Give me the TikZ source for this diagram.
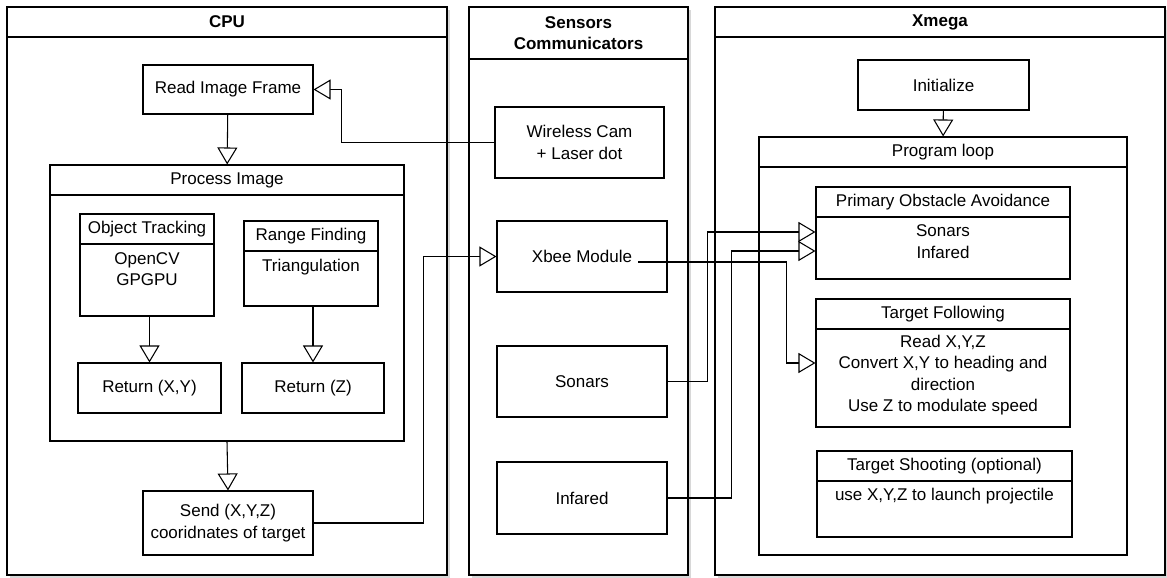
\documentclass[tikz,border=0pt]{standalone}
\usepackage{fontspec}
\setmainfont{Liberation Sans}
\usetikzlibrary{arrows.meta, shadows}

\newcommand{\lblfont}{\fontsize{12.75}{16}\selectfont}

\begin{document}
\begin{tikzpicture}[x=0.75pt, y=-0.75pt, font=\lblfont,
    size/.style 2 args={minimum width=#1*0.75pt, minimum height=#2*0.75pt},
    lane/.style={draw, line width=1.5pt, fill=white, inner sep=0pt, align=center,
      drop shadow={shadow xshift=2.5pt, shadow yshift=-2.5pt, fill=black!30}},
    title/.style={lane, font=\lblfont\bfseries},
    box/.style={draw, line width=0.8pt, fill=white, inner sep=0pt, align=center},
    txt/.style={inner sep=0pt, align=center},
    flow/.style={line width=0.8pt, -{Triangle[length=12.75pt, width=15pt, fill=white]}}]
  \useasboundingbox (0,0) rectangle (1167,578);

  % swimlanes
  \node[title, size={440}{30}] (cpu) at (227,22) {CPU};
  \node[lane, size={440}{538}] (cpu-b) at (227,306) {};
  \node[title, size={219}{52}] (sen) at (578.5,33) {Sensors\\Communicators};
  \node[lane, size={219}{516}] (sen-b) at (578.5,317) {};
  \node[title, size={450}{30}] (xm) at (940,22) {Xmega};
  \node[lane, size={450}{538}] (xm-b) at (940,306) {};

  % CPU side
  \node[box, size={170}{49}] (rif) at (228,89.5) {Read Image Frame};
  \node[box, size={354}{30}] (pi) at (227,180) {Process Image};
  \node[box, size={354}{246}] (pi-b) at (227,318) {};
  \node[box, size={134}{30}] (ot) at (147,229) {Object Tracking};
  \node[box, size={134}{72}] (ot-b) at (147,280) {};
  \node[txt] (ot-t) at (147,269) {OpenCV\\GPGPU};
  \node[box, size={134}{30}] (rf) at (311,236) {Range Finding};
  \node[box, size={134}{55}] (rf-b) at (311,278.5) {};
  \node[txt] (rf-t) at (311,267) {Triangulation};
  \node[box, size={143}{50}] (rxy) at (149.5,388) {Return (X,Y)};
  \node[box, size={142}{50}] (rz) at (313,388) {Return (Z)};
  \node[box, size={170}{64}] (send) at (228,523) {Send (X,Y,Z)\\cooridnates of target};

  % sensors
  \node[box, size={169}{71}] (cam) at (579.5,142.5) {Wireless Cam\\+ Laser dot};
  \node[box, size={170}{71}] (xbee) at (582,256.5) {Xbee Module};
  \node[box, size={170}{71}] (son) at (582,381.5) {Sonars};
  \node[box, size={170}{72}] (ir) at (582,498) {Infared};
  \coordinate (xbee-out) at (638,262);

  % Xmega side
  \node[box, size={171}{50}] (init) at (943.5,85) {Initialize};
  \node[box, size={368}{30}] (loop) at (943,152) {Program loop};
  \node[box, size={368}{388}] (loop-b) at (943,361) {};
  \node[box, size={254}{30}] (poa) at (943,202) {Primary Obstacle Avoidance};
  \node[box, size={254}{62}] (poa-b) at (943,248) {};
  \node[txt] (poa-t) at (943,241.5) {Sonars\\Infared};
  \node[box, size={254}{30}] (tf) at (943,314) {Target Following};
  \node[box, size={254}{98}] (tf-b) at (943,378) {};
  \node[txt] (tf-t) at (943,375) {Read X,Y,Z\\Convert X,Y to heading and\\direction\\Use Z to modulate speed};
  \node[box, size={255}{30}] (ts) at (944.5,466) {Target Shooting (optional)};
  \node[box, size={255}{56}] (ts-b) at (944.5,509) {};
  \node[txt] (ts-t) at (944.5,496) {use X,Y,Z to launch projectile};

  % flow inside CPU
  \draw[flow] (rif) -- (pi);
  \draw[flow] (ot-b.south -| rxy.north) -- (rxy.north);
  \draw[flow] (rf-b.south -| rz.north) -- (rz.north);
  \draw[flow] (pi-b.south) -- (send.north);
  \draw[flow] (init) -- (loop);

  % links between lanes
  \draw[flow] (cam.west) -| ([xshift=21pt]rif.east) -- (rif.east);
  \draw[flow] (send.east) -| ([xshift=-54.75pt]xbee.west) -- (xbee.west);
  \draw[flow] (xbee-out) -| ([xshift=-21.75pt, yshift=11.25pt]tf-b.west) -- ([yshift=11.25pt]tf-b.west);
  \draw[flow] (son.east) -| ([xshift=-81pt, yshift=12pt]poa-b.west) -- ([yshift=12pt]poa-b.west);
  \draw[flow] (ir.east) -| ([xshift=-63pt, yshift=-2.25pt]poa-b.west) -- ([yshift=-2.25pt]poa-b.west);
\end{tikzpicture}
\end{document}
